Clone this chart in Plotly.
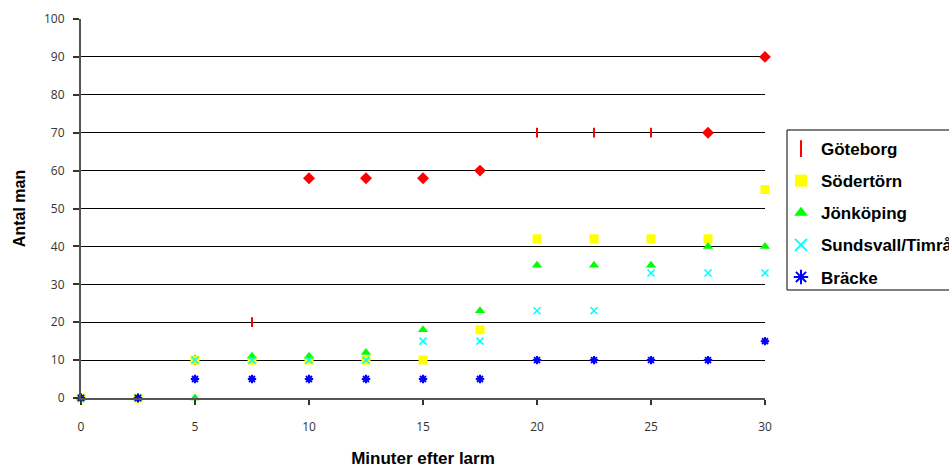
import plotly.graph_objects as go

minutes = [0, 2.5, 5, 7.5, 10, 12.5, 15, 17.5, 20, 22.5, 25, 27.5, 30]
goteborg = [0, 0, 10, 20, 58, 58, 58, 60, 70, 70, 70, 70, 90]
goteborg_symbols = ["line-ns", "line-ns", "line-ns", "line-ns", "diamond", "diamond", "diamond",
                    "diamond", "line-ns", "line-ns", "line-ns", "diamond", "diamond"]
sodertorn = [0, 0, 10, 10, 10, 10, 10, 18, 42, 42, 42, 42, 55]
jonkoping = [0, 0, 0, 11, 11, 12, 18, 23, 35, 35, 35, 40, 40]
sundsvall = [0, 0, 10, 10, 10, 10, 15, 15, 23, 23, 33, 33, 33]
bracke = [0, 0, 5, 5, 5, 5, 5, 5, 10, 10, 10, 10, 15]

x_ticks = [0, 5, 10, 15, 20, 25, 30]
y_ticks = list(range(0, 101, 10))

fig = go.Figure()

fig.add_trace(go.Scatter(
    x=minutes, y=goteborg, mode="markers", name="Göteborg", legendgroup="g1",
    marker=dict(symbol=goteborg_symbols, size=7, color="#FF0000",
                line=dict(color="#FF0000", width=2)),
    cliponaxis=False))
fig.add_trace(go.Scatter(
    x=minutes, y=sodertorn, mode="markers", name="Södertörn", legendgroup="g2",
    marker=dict(symbol="square", size=9, color="#FFFF00", line=dict(width=0)),
    cliponaxis=False))
fig.add_trace(go.Scatter(
    x=minutes, y=jonkoping, mode="markers", name="Jönköping", legendgroup="g3",
    marker=dict(symbol="triangle-up", size=9, color="#00FF00", line=dict(width=0)),
    cliponaxis=False))
fig.add_trace(go.Scatter(
    x=minutes, y=sundsvall, mode="markers", name="Sundsvall/Timrå", legendgroup="g4",
    marker=dict(symbol="x-thin", size=7, color="#00FFFF",
                line=dict(color="#00FFFF", width=1.5)),
    cliponaxis=False))
fig.add_trace(go.Scatter(
    x=minutes, y=bracke, mode="markers", name="Bräcke", legendgroup="g5",
    marker=dict(symbol="asterisk", size=7, color="#0000FF",
                line=dict(color="#0000FF", width=2)),
    cliponaxis=False))

# legend frame
fig.add_shape(type="rect", xref="paper", yref="paper",
              x0=(787 - 81) / 684, x1=(952 - 81) / 684,
              y0=(398 - 290) / 379, y1=(398 - 130) / 379,
              line=dict(color="#000000", width=1), fillcolor="rgba(0,0,0,0)", layer="above")

fig.update_layout(
    width=949, height=468,
    margin=dict(l=81, r=184, t=19, b=70, autoexpand=False),
    paper_bgcolor="white", plot_bgcolor="white",
    font=dict(family="Liberation Sans, Arial, sans-serif", color="#000000"),
    legend=dict(
        xref="container", yref="container",
        x=781 / 949, y=1 - 131 / 468, xanchor="left", yanchor="top",
        borderwidth=0, bgcolor="rgba(0,0,0,0)",
        font=dict(size=17, family="Liberation Sans, Arial, sans-serif", color="#000000",
                  weight="bold"),
        tracegroupgap=7, itemsizing="constant",
    ),
    xaxis=dict(
        range=[0, 30], tickvals=x_ticks, ticktext=[str(v) for v in x_ticks],
        showgrid=False, zeroline=False, automargin=False,
        showline=True, linecolor="#555555", linewidth=2,
        ticks="outside", ticklen=5, tickcolor="#333333", tickwidth=1.5,
        tickfont=dict(size=12, color="#333333", family="Open Sans, Liberation Sans, sans-serif"),
        ticklabelstandoff=12,
        title=dict(text="<b>Minuter efter larm</b>", font=dict(size=17, color="#000000"),
                   standoff=20),
    ),
    yaxis=dict(
        range=[0, 100], tickvals=y_ticks, ticktext=[str(v) for v in y_ticks],
        showgrid=True, gridcolor="#000000", gridwidth=1, zeroline=False, automargin=False,
        showline=True, linecolor="#555555", linewidth=2,
        ticks="outside", ticklen=6, tickcolor="#333333", tickwidth=1.5,
        tickfont=dict(size=12, color="#333333", family="Open Sans, Liberation Sans, sans-serif"),
        ticklabelstandoff=6,
        title=dict(text="<b>Antal man</b>", font=dict(size=16, color="#000000"),
                   standoff=14),
    ),
)

fig.write_html("out.html")
